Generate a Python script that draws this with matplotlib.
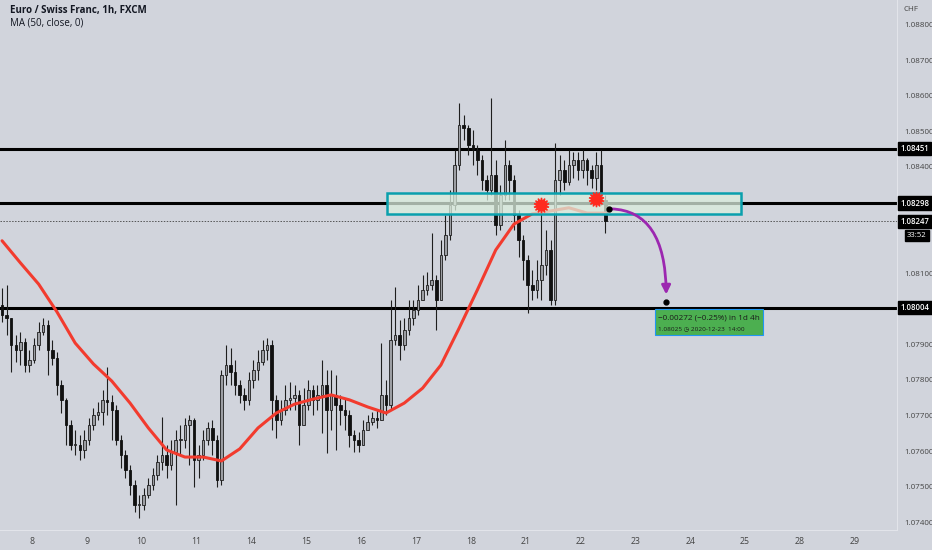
import numpy as np
import matplotlib
matplotlib.use("Agg")
import matplotlib.pyplot as plt
import matplotlib.transforms as mtransforms
from matplotlib.patches import Rectangle, FancyArrowPatch

plt.rcParams['font.family'] = ['Open Sans', 'DejaVu Sans']

close = [1.07983, 1.07975, 1.07899, 1.07885, 1.07907, 1.07842, 1.07856, 1.07899, 1.07935, 1.07955,
         1.07885, 1.07862, 1.07786, 1.07744, 1.07673, 1.07617, 1.07617, 1.07603, 1.07631, 1.07673,
         1.07701, 1.07710, 1.07744, 1.07738, 1.07715, 1.07631, 1.07589, 1.07546, 1.07504, 1.07448,
         1.07448, 1.07476, 1.07504, 1.07532, 1.07569, 1.07589, 1.07561, 1.07597, 1.07631, 1.07631,
         1.07673, 1.07687, 1.07575, 1.07589, 1.07631, 1.07665, 1.07631, 1.07518, 1.07814, 1.07842,
         1.07823, 1.07786, 1.07758, 1.07744, 1.07800, 1.07828, 1.07851, 1.07885, 1.07899, 1.07744,
         1.07687, 1.07715, 1.07744, 1.07749, 1.07758, 1.07673, 1.07730, 1.07772, 1.07744, 1.07758,
         1.07786, 1.07715, 1.07758, 1.07730, 1.07715, 1.07701, 1.07645, 1.07631, 1.07617, 1.07659,
         1.07682, 1.07693, 1.07687, 1.07758, 1.07730, 1.07913, 1.07927, 1.07899, 1.07941, 1.07975,
         1.07997, 1.08025, 1.08054, 1.08068, 1.08082, 1.08025, 1.08152, 1.08208, 1.08293, 1.08406,
         1.08518, 1.08510, 1.08462, 1.08448, 1.08420, 1.08363, 1.08335, 1.08377, 1.08237, 1.08321,
         1.08406, 1.08363, 1.08265, 1.08194, 1.08138, 1.08068, 1.08054, 1.08082, 1.08124, 1.08166,
         1.08025, 1.08363, 1.08392, 1.08358, 1.08406, 1.08420, 1.08392, 1.08420, 1.08392, 1.08369,
         1.08406, 1.08307, 1.08247]
high = [1.08059, 1.08068, 1.07969, 1.07927, 1.07935, 1.07918, 1.07885, 1.07918, 1.07963, 1.07975,
        1.07969, 1.07913, 1.07879, 1.07800, 1.07749, 1.07687, 1.07659, 1.07645, 1.07659, 1.07693,
        1.07721, 1.07738, 1.07772, 1.07837, 1.07758, 1.07730, 1.07645, 1.07603, 1.07561, 1.07518,
        1.07476, 1.07496, 1.07524, 1.07552, 1.07589, 1.07696, 1.07617, 1.07631, 1.07659, 1.07673,
        1.07693, 1.07701, 1.07693, 1.07617, 1.07659, 1.07682, 1.07687, 1.07645, 1.07828, 1.07899,
        1.07890, 1.07856, 1.07800, 1.07777, 1.07823, 1.07856, 1.07885, 1.07913, 1.07918, 1.07913,
        1.07758, 1.07744, 1.07786, 1.07794, 1.07786, 1.07772, 1.07777, 1.07800, 1.07786, 1.07786,
        1.07856, 1.07828, 1.07828, 1.07814, 1.07758, 1.07749, 1.07715, 1.07659, 1.07654, 1.07687,
        1.07701, 1.07710, 1.07715, 1.07904, 1.07800, 1.08025, 1.08062, 1.07969, 1.07975, 1.08025,
        1.08025, 1.08068, 1.08096, 1.08104, 1.08214, 1.08096, 1.08194, 1.08265, 1.08335, 1.08448,
        1.08580, 1.08547, 1.08518, 1.08504, 1.08462, 1.08434, 1.08377, 1.08594, 1.08420, 1.08349,
        1.08476, 1.08420, 1.08377, 1.08279, 1.08208, 1.08152, 1.08110, 1.08138, 1.08287, 1.08223,
        1.08194, 1.08468, 1.08434, 1.08420, 1.08448, 1.08442, 1.08442, 1.08448, 1.08425, 1.08406,
        1.08442, 1.08448, 1.08321]
low = [1.07963, 1.07927, 1.07823, 1.07851, 1.07842, 1.07823, 1.07823, 1.07848, 1.07885, 1.07927,
       1.07814, 1.07842, 1.07758, 1.07707, 1.07617, 1.07603, 1.07589, 1.07575, 1.07580, 1.07617,
       1.07659, 1.07687, 1.07673, 1.07701, 1.07631, 1.07617, 1.07552, 1.07524, 1.07476, 1.07428,
       1.07411, 1.07434, 1.07468, 1.07490, 1.07518, 1.07546, 1.07524, 1.07546, 1.07448, 1.07589,
       1.07608, 1.07561, 1.07499, 1.07524, 1.07575, 1.07617, 1.07589, 1.07499, 1.07504, 1.07786,
       1.07786, 1.07758, 1.07735, 1.07715, 1.07730, 1.07777, 1.07800, 1.07842, 1.07856, 1.07659,
       1.07637, 1.07673, 1.07701, 1.07715, 1.07715, 1.07617, 1.07673, 1.07715, 1.07701, 1.07715,
       1.07651, 1.07594, 1.07659, 1.07603, 1.07673, 1.07659, 1.07611, 1.07597, 1.07597, 1.07631,
       1.07659, 1.07673, 1.07665, 1.07744, 1.07701, 1.07715, 1.07899, 1.07856, 1.07885, 1.07927,
       1.07955, 1.07983, 1.08025, 1.08039, 1.08054, 1.07941, 1.08025, 1.08138, 1.08194, 1.08279,
       1.08392, 1.08476, 1.08434, 1.08406, 1.08377, 1.08335, 1.08307, 1.08321, 1.08208, 1.08223,
       1.08307, 1.08307, 1.08223, 1.08146, 1.08082, 1.07989, 1.08025, 1.08031, 1.08025, 1.08096,
       1.08011, 1.08011, 1.08321, 1.08335, 1.08349, 1.08369, 1.08363, 1.08369, 1.08349, 1.08341,
       1.08335, 1.08293, 1.08214]
first_open = 1.08011

# MA(50, close) read every 4 bars
ma50 = [1.08192, 1.08130, 1.08070, 1.07992, 1.07904, 1.07845, 1.07797, 1.07735, 1.07665, 1.07603,
        1.07583, 1.07583, 1.07572, 1.07606, 1.07665, 1.07707, 1.07732, 1.07746, 1.07758, 1.07744,
        1.07724, 1.07707, 1.07735, 1.07777, 1.07842, 1.07946, 1.08054, 1.08166, 1.08239, 1.08268,
        1.08276, 1.08285, 1.08270, 1.08270]
ma_step = 4

day_labels = ['8', '9', '10', '11', '14', '15', '16', '17', '18', '21', '22', '23', '24', '25', '28', '29']
bars_per_day = 12
first_day_bar = 6.55

levels = [1.08451, 1.08298, 1.08004]
last_price = 1.08247
countdown = '33:52'
zone_low, zone_high = 1.08268, 1.08327
zone_bars = (84.2, 161.7)
touches = [(117.9, 1.08293), (130.0, 1.08310)]
target_price = 1.08025
measure_text = '\u22120.00272 (\u22120.25%) in 1d 4h'
measure_sub = '1.08025 \u25f7 2020-12-23  14:00'

bg = '#d1d4dc'
fig = plt.figure(figsize=(9.32, 5.5), dpi=100, facecolor=bg)
ax = fig.add_axes([0.0, 0.036, 0.9625, 0.964], facecolor=bg)

n = len(close)
x = np.arange(n)
o = np.array([first_open] + close[:-1])
c = np.array(close)
h = np.maximum(np.array(high), np.maximum(o, c))
l = np.minimum(np.array(low), np.minimum(o, c))
up = c >= o

ax.vlines(x, l, h, color='#1e1e1e', lw=0.8, zorder=3)
body_bot = np.minimum(o, c)
body_h = np.maximum(np.abs(c - o), 0.00003)
ax.bar(x[up], body_h[up], bottom=body_bot[up], width=0.55, color='#9c9ea3',
       edgecolor='#1e1e1e', linewidth=0.6, zorder=4)
ax.bar(x[~up], body_h[~up], bottom=body_bot[~up], width=0.55, color='#111111',
       edgecolor='#111111', linewidth=0.6, zorder=4)

ma_x = np.arange(len(ma50)) * ma_step
ax.plot(ma_x, ma50, color='#f23b2e', lw=2.2, zorder=5, solid_capstyle='round')

# horizontal levels
for lv in levels:
    ax.axhline(lv, color='black', lw=2.2, zorder=2)
ax.axhline(last_price, color='#555555', lw=0.7, ls=(0, (1.5, 1.5)), zorder=2)

# zone box
ax.add_patch(Rectangle((zone_bars[0], zone_low), zone_bars[1] - zone_bars[0], zone_high - zone_low,
                       facecolor='#dbeedd', alpha=0.75, edgecolor='none', zorder=6))
ax.add_patch(Rectangle((zone_bars[0], zone_low), zone_bars[1] - zone_bars[0], zone_high - zone_low,
                       facecolor='none', edgecolor='#0aa0ad', lw=1.8, zorder=7))

for tx, ty in touches:
    ax.plot(tx, ty, marker=(14, 1, 0), ms=11, color='#ff2a1f', mec='#ff2a1f', zorder=8)

# projection arrow
start = (n - 0.3, 1.08282)
end = (145.3, target_price - 0.00004)
arr = FancyArrowPatch(start, (end[0], end[1] + 0.00012), connectionstyle='angle3,angleA=0,angleB=90',
                      arrowstyle='-|>', mutation_scale=13, color='#9c27b0', lw=2.0, zorder=8)
ax.add_patch(arr)
ax.plot([start[0], end[0]], [start[1], end[1]], 'o', color='black', ms=3.5, zorder=9)

# measure label
ax.add_patch(Rectangle((142.9, 1.07927), 23.6, 0.00073, facecolor='#4caf50',
                       edgecolor='#2196f3', lw=0.8, zorder=9))
ax.text(143.5, 1.07975, measure_text, fontsize=5.9, color='#1b1b1b', va='center', ha='left', zorder=10)
ax.text(143.5, 1.07945, measure_sub, fontsize=4.6, color='#1b1b1b', va='center', ha='left', zorder=10)

# axes
ax.set_xlim(-0.45, 195.8)
ax.set_ylim(1.07377, 1.08870)
ticks = first_day_bar + bars_per_day * np.arange(len(day_labels))
ax.set_xticks(ticks)
ax.set_xticklabels(day_labels, fontsize=6.3, color='#444444')
# labels at 1.080, 1.082, 1.083 sit under the price tags
yt = [v / 1000 for v in range(1074, 1089) if v not in (1080, 1082, 1083)]
ax.yaxis.tick_right()
ax.set_yticks(yt)
ax.set_yticklabels(['%.5f' % v for v in yt], fontsize=5.8, color='#444444')
ax.tick_params(axis='y', length=0, pad=5)
ax.tick_params(axis='x', length=0, pad=5)
for s in ['top', 'left']:
    ax.spines[s].set_visible(False)
ax.spines['right'].set_color('#e2e4ea')
ax.spines['bottom'].set_color('#e2e4ea')

trans = mtransforms.blended_transform_factory(ax.transAxes, ax.transData)
for lv in levels + [last_price]:
    ax.text(1.004, lv, '%.5f' % lv, transform=trans, fontsize=5.6, color='white', fontweight='semibold',
            va='center', ha='left', zorder=20, clip_on=False,
            bbox=dict(boxstyle='square,pad=0.28', fc='black', ec='black'))
ax.text(1.011, last_price - 0.00041, countdown, transform=trans, fontsize=5.6, color='white',
        va='center', ha='left', zorder=20, clip_on=False,
        bbox=dict(boxstyle='square,pad=0.28', fc='black', ec='black'))

fig.text(0.985, 0.982, 'CHF', fontsize=5.8, color='#444444', ha='right', va='center')
fig.text(0.011, 0.98, 'Euro / Swiss Franc, 1h, FXCM', fontsize=7.0, color='#131722',
         fontweight='bold', ha='left', va='center')
fig.text(0.011, 0.958, 'MA (50, close, 0)', fontsize=7.0, color='#131722', ha='left', va='center')

fig.savefig('out.png', dpi=100, facecolor=bg)
